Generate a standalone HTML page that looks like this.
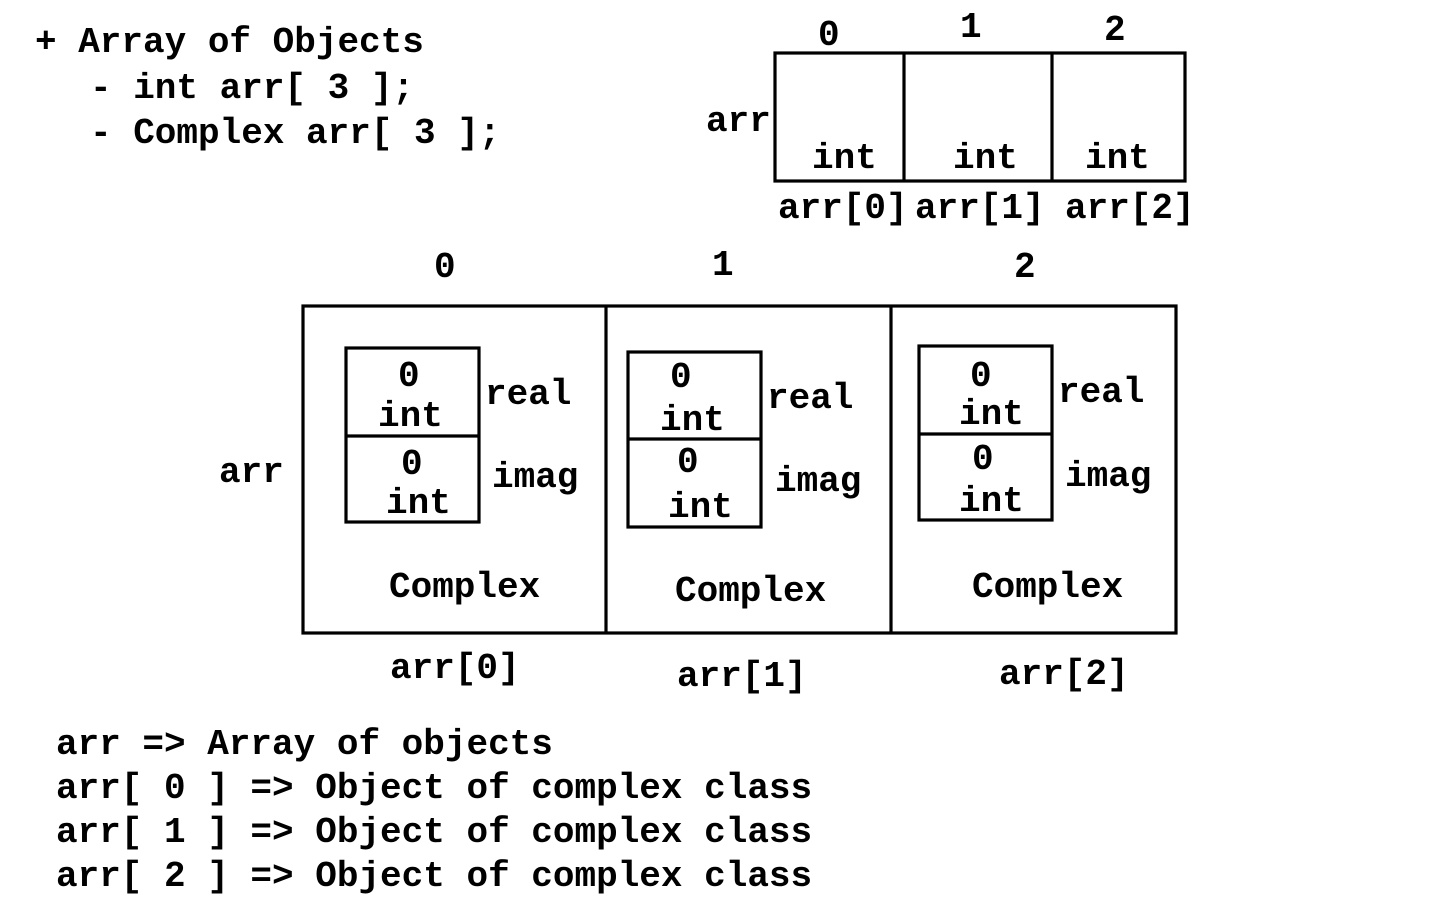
<!DOCTYPE html>
<html><head><meta charset="utf-8"><style>html,body{margin:0;padding:0;background:#fff;}svg{display:block}</style></head>
<body>
<svg width="1440" height="900" xmlns="http://www.w3.org/2000/svg">
<g fill="none" stroke="#000" stroke-width="3.2">
<rect x="775" y="53" width="410" height="128"/>
<line x1="904" y1="53" x2="904" y2="181"/>
<line x1="1052" y1="53" x2="1052" y2="181"/>
<rect x="303" y="306" width="873" height="327"/>
<line x1="606" y1="306" x2="606" y2="633"/>
<line x1="891" y1="306" x2="891" y2="633"/>
<rect x="346" y="348" width="133" height="174"/>
<line x1="346" y1="436" x2="479" y2="436"/>
<rect x="628" y="352" width="133" height="175"/>
<line x1="628" y1="439" x2="761" y2="439"/>
<rect x="919" y="346" width="133" height="174"/>
<line x1="919" y1="434" x2="1052" y2="434"/>
</g>
<g font-family="'Liberation Mono', monospace" font-weight="bold" font-size="36" fill="#000">
<text x="35" y="52">+ Array of Objects</text>
<text x="90" y="98">- int arr[ 3 ];</text>
<text x="90" y="143">- Complex arr[ 3 ];</text>
<text x="818" y="45">0</text>
<text x="960" y="37">1</text>
<text x="1104" y="40">2</text>
<text x="706" y="131">arr</text>
<text x="812" y="168">int</text>
<text x="953" y="168">int</text>
<text x="1085" y="168">int</text>
<text x="778" y="218">arr[0]</text>
<text x="915" y="218">arr[1]</text>
<text x="1065" y="218">arr[2]</text>
<text x="434" y="277">0</text>
<text x="712" y="275">1</text>
<text x="1014" y="277">2</text>
<text x="219" y="482">arr</text>
<text x="398" y="386">0</text>
<text x="378" y="426">int</text>
<text x="485" y="404">real</text>
<text x="401" y="474">0</text>
<text x="386" y="513">int</text>
<text x="492" y="487">imag</text>
<text x="389" y="597">Complex</text>
<text x="670" y="387">0</text>
<text x="660" y="430">int</text>
<text x="767" y="408">real</text>
<text x="677" y="472">0</text>
<text x="668" y="517">int</text>
<text x="775" y="491">imag</text>
<text x="675" y="601">Complex</text>
<text x="970" y="386">0</text>
<text x="959" y="424">int</text>
<text x="1058" y="402">real</text>
<text x="972" y="469">0</text>
<text x="959" y="511">int</text>
<text x="1065" y="486">imag</text>
<text x="972" y="597">Complex</text>
<text x="390" y="678">arr[0]</text>
<text x="677" y="686">arr[1]</text>
<text x="999" y="684">arr[2]</text>
<text x="56" y="754">arr =&gt; Array of objects</text>
<text x="56" y="798">arr[ 0 ] =&gt; Object of complex class</text>
<text x="56" y="842">arr[ 1 ] =&gt; Object of complex class</text>
<text x="56" y="886">arr[ 2 ] =&gt; Object of complex class</text>
</g>
</svg>
</body></html>
